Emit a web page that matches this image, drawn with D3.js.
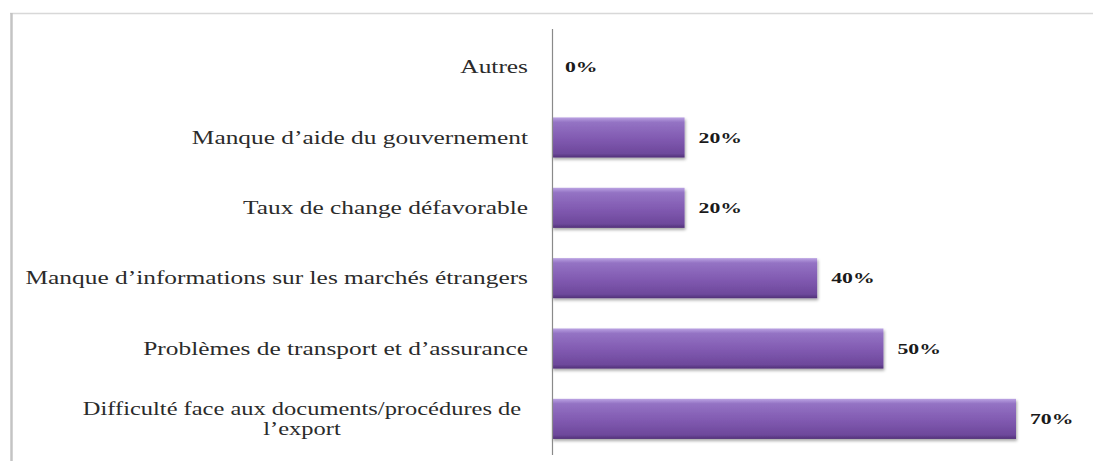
<!DOCTYPE html>
<html>
<head>
<meta charset="utf-8">
<script src="https://cdn.jsdelivr.net/npm/d3@7"></script>
<style>
  body { margin: 0; background: #fff; }
  svg { display: block; }
  .lbl { font-family: "Liberation Serif", "DejaVu Serif", serif; }
</style>
</head>
<body>
<svg id="chart" width="1093" height="461"></svg>
<script>
// categories, top to bottom
const categories = [
  "Autres",
  "Manque d’aide du gouvernement",
  "Taux de change défavorable",
  "Manque d’informations sur les marchés étrangers",
  "Problèmes de transport et d’assurance",
  "Difficulté face aux documents/procédures de l’export"
];
const values = [0, 20, 20, 40, 50, 70];

const svg = d3.select("#chart");
const W = 1093, H = 461;
const axisX = 552;
const stretch = 1.41; // the source image is stretched sideways

// frame lines
svg.append("line")
  .attr("x1", 10).attr("x2", W).attr("y1", 13.5).attr("y2", 13.5)
  .attr("stroke", "#d8d8d8").attr("stroke-width", 1.5);
svg.append("line")
  .attr("x1", 11.5).attr("x2", 11.5).attr("y1", 13).attr("y2", H)
  .attr("stroke", "#c4c4c4").attr("stroke-width", 2.5);

var x = d3.scaleLinear().domain([0, 70]).range([axisX, 1016]);
var y = d3.scaleBand().domain(categories).range([33, 453]).paddingInner(0.43).paddingOuter(0.2);

var defs = svg.append("defs");
var grad = defs.append("linearGradient")
  .attr("id", "barGrad").attr("x1", 0).attr("x2", 0).attr("y1", 0).attr("y2", 1);
grad.append("stop").attr("offset", "0%").attr("stop-color", "#bba3e3");
grad.append("stop").attr("offset", "12%").attr("stop-color", "#9473c4");
grad.append("stop").attr("offset", "55%").attr("stop-color", "#8059b0");
grad.append("stop").attr("offset", "90%").attr("stop-color", "#6d489b");
grad.append("stop").attr("offset", "100%").attr("stop-color", "#513078");

var shadow = defs.append("filter").attr("id", "shadow")
  .attr("x", "-5%").attr("y", "-20%").attr("width", "110%").attr("height", "150%");
shadow.append("feDropShadow")
  .attr("dx", 1).attr("dy", 2).attr("stdDeviation", 1.5)
  .attr("flood-color", "#000").attr("flood-opacity", 0.35);

var rows = categories.map(function(c, i) { return { label: c, value: values[i] }; });

// bars
svg.append("g").selectAll("rect")
  .data(rows.filter(function(d) { return d.value > 0; }))
  .enter()
  .append("rect")
  .attr("x", x(0))
  .attr("y", function(d) { return y(d.label); })
  .attr("width", function(d) { return x(d.value) - x(0); })
  .attr("height", y.bandwidth())
  .attr("fill", "url(#barGrad)")
  .attr("filter", "url(#shadow)");

// axis line
svg.append("line")
  .attr("x1", axisX + 0.5).attr("x2", axisX + 0.5).attr("y1", 29).attr("y2", 455)
  .attr("stroke", "#8a8a8a").attr("stroke-width", 1.2);

// category labels
var labels = svg.append("g").selectAll("text")
  .data(rows)
  .enter()
  .append("text")
  .attr("class", "lbl")
  .attr("transform", function(d) {
    var cy = y(d.label) + y.bandwidth() / 2;
    if (d.label.indexOf("Difficulté") === 0) return "translate(302," + cy + ") scale(1.36,1)";
    return "translate(528," + cy + ") scale(" + stretch + ",1)";
  })
  .attr("font-size", "18px")
  .attr("fill", "#2b2b2b")
  .attr("text-anchor", "end")
  .attr("dominant-baseline", "central");

labels.each(function(d) {
  var t = d3.select(this);
  if (d.label.indexOf("Difficulté") === 0) {
    var parts = ["Difficulté face aux documents/procédures de", "l’export"];
    t.attr("text-anchor", "middle");
    t.append("tspan").attr("x", 0).attr("dy", "-0.55em").text(parts[0]);
    t.append("tspan").attr("x", 0).attr("dy", "1.1em").text(parts[1]);
  } else {
    t.text(d.label);
  }
});

// value labels
svg.append("g").selectAll("text")
  .data(rows)
  .enter()
  .append("text")
  .attr("class", "lbl")
  .attr("transform", function(d) {
    var cx = x(d.value) + (d.value > 0 ? 14 : 13);
    var cy = y(d.label) + y.bandwidth() / 2;
    return "translate(" + cx + "," + cy + ") scale(1.45,1)";
  })
  .attr("font-weight", "bold")
  .attr("font-size", "15px")
  .attr("fill", "#1a1a1a")
  .attr("dominant-baseline", "central")
  .text(function(d) { return d.value + "%"; });
</script>
</body>
</html>
